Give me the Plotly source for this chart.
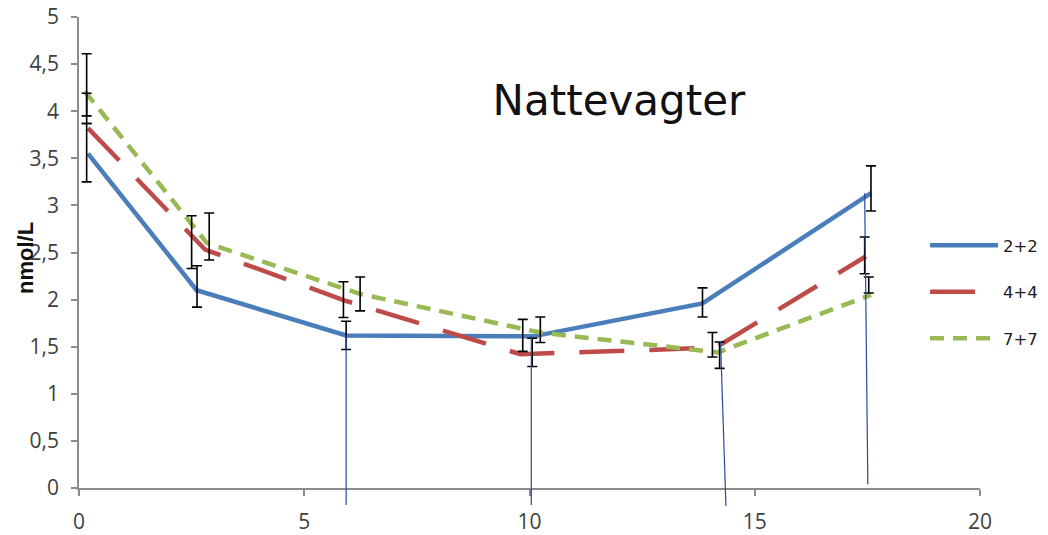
import plotly.graph_objects as go

# ---- data ----
series_names = ["2+2", "4+4", "7+7"]

blue_x = [0.2, 2.61, 5.93, 10.08, 13.84, 17.58]
blue_y = [3.55, 2.10, 1.62, 1.61, 1.96, 3.13]
red_x = [0.2, 2.8, 5.9, 9.8, 14.13, 17.47]
red_y = [3.82, 2.53, 1.99, 1.42, 1.49, 2.46]
green_x = [0.13, 2.84, 6.24, 10.24, 14.18, 17.58]
green_y = [4.21, 2.60, 2.06, 1.65, 1.44, 2.05]

# error bars (positioned as in the original chart)
blue_err_x = [0.17, 2.62, 5.93, 9.85, 13.84, 17.58]
blue_err_y = [3.56, 2.14, 1.62, 1.62, 1.97, 3.18]
blue_err = [0.31, 0.22, 0.15, 0.17, 0.155, 0.24]
red_err_x = [0.17, 2.5, 5.87, 10.06, 14.06, 17.44]
red_err_y = [4.07, 2.61, 2.0, 1.44, 1.52, 2.47]
red_err = [0.12, 0.28, 0.19, 0.15, 0.13, 0.195]
green_err_x = [0.17, 2.89, 6.24, 10.24, 14.22, 17.53]
green_err_y = [4.24, 2.67, 2.06, 1.68, 1.41, 2.07]
green_err_plus = [0.37, 0.25, 0.18, 0.135, 0.14, 0.17]
green_err_minus = [0.37, 0.25, 0.18, 0.135, 0.14, 0.0]

# thin vertical marker lines
drop_x_top = [5.93, 10.04, 14.24, 17.44]
drop_x_bottom = [5.93, 10.04, 14.36, 17.51]
drop_y_top = [1.62, 1.61, 1.56, 3.13]
drop_y_bottom = [-0.18, -0.18, -0.19, 0.04]

x_range = [0, 20]
y_range = [0, 5]
x_ticks = [0, 5, 10, 15, 20]
y_ticks = [0, 0.5, 1, 1.5, 2, 2.5, 3, 3.5, 4, 4.5, 5]

title_text = "Nattevagter"
y_title = "nmol/L"

# ---- styles ----
colors = ["#4a7ebb", "#be4b48", "#98b954"]
dashes = ["solid", "45px,25px", "14px,9px"]

fig = go.Figure()

lines = [(blue_x, blue_y), (red_x, red_y), (green_x, green_y)]
for i, (xs, ys) in enumerate(lines):
    fig.add_trace(go.Scatter(
        x=xs, y=ys, mode="lines", name=series_names[i],
        legendgroup=series_names[i],
        line=dict(color=colors[i], width=4.5, dash=dashes[i]),
    ))

errs = [
    (blue_err_x, blue_err_y, blue_err, blue_err),
    (red_err_x, red_err_y, red_err, red_err),
    (green_err_x, green_err_y, green_err_plus, green_err_minus),
]
for xs, ys, ep, em in errs:
    fig.add_trace(go.Scatter(
        x=xs, y=ys, mode="markers", showlegend=False, hoverinfo="skip",
        marker=dict(size=1, color="rgba(0,0,0,0)"),
        error_y=dict(type="data", symmetric=False, array=ep, arrayminus=em,
                     color="black", thickness=1.6, width=5),
    ))

def to_paper(v):
    return (v - y_range[0]) / (y_range[1] - y_range[0])

for xt, xb, yt, yb in zip(drop_x_top, drop_x_bottom, drop_y_top, drop_y_bottom):
    fig.add_shape(type="line", xref="x", yref="paper",
                  x0=xt, y0=to_paper(yt), x1=xb, y1=to_paper(yb),
                  line=dict(color="#2a4a9e", width=1.2), layer="above")

axis_common = dict(showgrid=False, zeroline=False, automargin=False,
                   ticklabeloverflow="allow",
                   showline=True, linecolor="#8c8c8c", linewidth=1.6,
                   ticks="outside", ticklen=6, tickcolor="#8c8c8c", tickwidth=1.6,
                   tickfont=dict(size=21, color="#404040", family="Open Sans"))

# page has an 8px body margin, so the figure is 1040x527
fig.update_layout(
    width=1040, height=527,
    margin=dict(l=71, r=68, t=9, b=47, autoexpand=False),
    paper_bgcolor="white", plot_bgcolor="white",
    separators=",.",
    font=dict(family="Open Sans", color="#404040"),
    title=dict(text=title_text, x=0.5993, xref="paper", xanchor="center",
               y=0.8254, yref="container", yanchor="middle",
               font=dict(family="DejaVu Sans", size=42, color="#111111")),
    xaxis=dict(range=x_range, tickvals=x_ticks, ticklabelstandoff=8, **axis_common),
    yaxis=dict(range=y_range, tickvals=y_ticks, ticklabelstandoff=8, **axis_common),
    legend=dict(x=0.939, xanchor="left", y=0.552, yanchor="top",
                itemwidth=68, tracegroupgap=22, traceorder="grouped",
                font=dict(size=16.5, color="#1a1a1a", family="DejaVu Sans"),
                bgcolor="rgba(0,0,0,0)"),
    showlegend=True,
)

fig.add_annotation(text="<b>" + y_title + "</b>", xref="paper", yref="paper",
                   x=(25 - 79) / 901, y=(488 - 258) / 471, textangle=-90,
                   showarrow=False, xanchor="center", yanchor="middle",
                   font=dict(size=22, color="#111111", family="Liberation Sans"))

fig.write_html("out.html")
